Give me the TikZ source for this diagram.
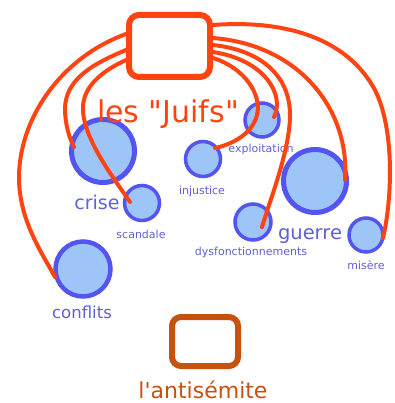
\documentclass[tikz,border=0pt]{standalone}
\usepackage{fontspec}
\newfontfamily\mapfont{DejaVu Sans}
\usepackage{tikz}
\usetikzlibrary{calc}
\definecolor{juifred}{RGB}{255,68,17}
\definecolor{themefill}{RGB}{158,197,248}
\definecolor{themeline}{RGB}{84,84,240}
\definecolor{themetext}{RGB}{96,96,214}
\definecolor{antibrown}{RGB}{198,82,16}
\def\Theme#1#2#3#4{%
 \node[theme circle, minimum size=#3, line width=#4] (#1) at (#2) {};
}
\def\Label#1#2#3#4{%
 \node[theme label, font=\mapfont\fontsize{#3}{#3}\selectfont] (#1) at (#2) {#4};
}

\begin{document}
\begin{tikzpicture}[x=1pt, y=-1pt,
  theme circle/.style={circle, draw=themeline, fill=themefill, inner sep=0pt},
  theme label/.style={anchor=base, inner sep=0pt, text=themetext},
  frame box/.style={rectangle, rounded corners=10pt, line width=6pt, inner sep=0pt, fill=white},
  link/.style={draw=juifred, line width=4pt, line cap=round}]
\useasboundingbox (0,0) rectangle (394,403);
% themes
\Theme{crise}{103,151}{63pt}{5pt}
\Theme{guerre}{315,181}{63pt}{5pt}
\Theme{conflits}{83,269}{55pt}{4.5pt}
\Theme{scandale}{142,203}{35pt}{3.5pt}
\Theme{exploitation}{262,120}{34pt}{3.5pt}
\Theme{injustice}{203,159}{35pt}{3.5pt}
\Theme{dysfonct}{253,222}{36pt}{3.5pt}
\Theme{misere}{366,235}{34pt}{3.5pt}
\Label{crise-l}{97,209}{19}{crise}
\Label{guerre-l}{310,239}{19.5}{guerre}
\Label{conflits-l}{82,318}{16.5}{conflits}
\Label{scandale-l}{141,238}{11}{scandale}
\Label{exploitation-l}{261,153}{11}{exploitation}
\Label{injustice-l}{202,194}{11}{injustice}
\Label{dysfonct-l}{251,255}{11}{dysfonctionnements}
\Label{misere-l}{366,269}{11}{misère}
% the two frames
\node[frame box, draw=juifred, minimum width=81pt, minimum height=62pt] (juifs) at (169.5,46) {};
\node[theme label, text=juifred, font=\mapfont\fontsize{30}{30}\selectfont] (juifs-l) at (168,123) {les "Juifs"};
\node[frame box, draw=antibrown, rounded corners=9pt, minimum width=66pt, minimum height=49pt] (antisemite) at (205,341.5) {};
\node[theme label, text=antibrown, font=\mapfont\fontsize{22}{22}\selectfont] (antisemite-l) at (203,398) {l'antisémite};
% links from the box
\draw[link] ($(juifs.west)+(0,-12)$) .. controls (60,58) and (18,120) .. (19,180)
   .. controls (20,220) and (40,250) .. ($(conflits)+(-28,8)$);
\draw[link] ($(juifs.west)+(0,4)$) .. controls (90,65) and (66,80) .. (65,108)
   .. controls (65,125) and (70,140) .. ($(crise)+(-29,-4)$);
\draw[link] ($(juifs.west)+(0,14)$) .. controls (100,72) and (82,88) .. (83,110)
   .. controls (84,140) and (115,180) .. ($(scandale)+(-12,-1)$);
\draw[link] ($(juifs.east)+(0,-21)$) .. controls (280,20) and (345,35) .. (375,90)
   .. controls (395,130) and (392,200) .. ($(misere)+(17,3)$);
\draw[link] ($(juifs.east)+(0,-8)$) .. controls (300,45) and (350,110) .. ($(guerre)+(30,-1)$);
\draw[link] ($(juifs.east)+(0,-1)$) .. controls (260,50) and (290,75) .. (290,115)
   .. controls (290,150) and (270,200) .. ($(dysfonct)+(9,5)$);
\draw[link] ($(juifs.east)+(0,6)$) .. controls (265,60) and (285,95) .. ($(exploitation)+(12,-3)$);
\draw[link] ($(juifs.east)+(0,12)$) .. controls (245,68) and (262,95) .. (257,115)
   .. controls (252,135) and (230,145) .. ($(injustice)+(12,-11)$);
\end{tikzpicture}
\end{document}
